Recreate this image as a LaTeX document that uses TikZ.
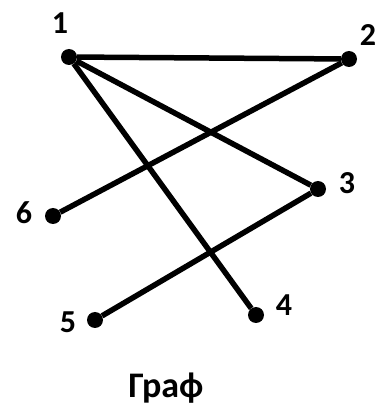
\documentclass[tikz,border=0pt]{standalone}
\usepackage{fontspec}
\setmainfont{Carlito}
\usepackage{tikz}
\usetikzlibrary{positioning}

\begin{document}
\begin{tikzpicture}[x=1pt, y=1pt, vertex/.style={circle, fill=black, inner sep=0pt, minimum size=16pt}, num/.style={font=\fontsize{32}{32}\selectfont\bfseries, inner sep=0pt}, edge/.style={line width=5.5pt}]
\useasboundingbox (0,0) rectangle (379,408);
\node [vertex] (v1) at (69,351) {};
\node [vertex] (v2) at (349,349) {};
\node [vertex] (v3) at (318,219) {};
\node [vertex] (v4) at (256,93) {};
\node [vertex] (v5) at (95,88) {};
\node [vertex] (v6) at (53,192) {};
\node [num] (n1) at (60,385) {1};
\node [num] (n2) at (368,373) {2};
\node [num] (n3) at (347,225) {3};
\node [num] (n4) at (284,103) {4};
\node [num] (n5) at (68,86) {5};
\node [num] (n6) at (24,195) {6};
\node [num, font=\fontsize{36}{36}\selectfont\bfseries, anchor=base] (title) at (166,11) {Граф};
\draw [edge] (v1) -- (v2);
\draw [edge] (v1) -- (v3);
\draw [edge] (v1) -- (v4);
\draw [edge] (v2) -- (v6);
\draw [edge] (v3) -- (v5);
\end{tikzpicture}
\end{document}
